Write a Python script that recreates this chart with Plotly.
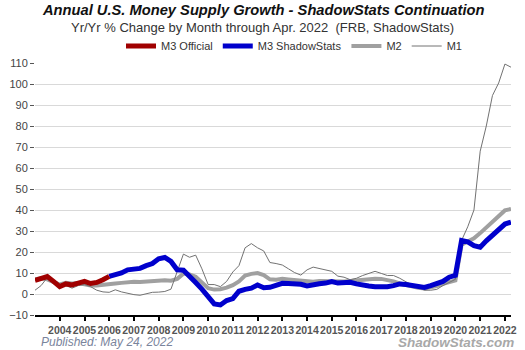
import plotly.graph_objects as go
import pandas as pd

# Quarterly observation dates (Jan 2003 .. Apr 2022)
dates = pd.date_range("2003-01-01", "2022-04-01", freq="QS").strftime("%Y-%m-%d").tolist()

# M3 Official (discontinued early 2006)
m3_official = [6.5, 7.2, 8.3, 6.0, 3.5, 4.8, 4.3, 5.2, 6.0, 5.0,
               5.5, 6.8, 8.4] + [None] * 65

# M3 ShadowStats continuation
m3_shadowstats = [None] * 12 + [
    8.4, 9.2, 10.0, 11.5, 12.0, 12.2, 13.5, 14.5, 16.8, 17.4,
    15.5, 11.5, 11.3, 8.0, 5.5, 2.3, -1.5, -4.7, -5.2, -3.1,
    -2.2, 1.3, 2.2, 2.8, 4.3, 3.0, 3.2, 4.2, 5.1, 5.0,
    5.0, 4.6, 3.8, 4.5, 4.9, 5.2, 5.9, 5.2, 5.2, 5.6,
    4.8, 4.0, 3.8, 3.5, 3.3, 3.5, 4.0, 4.8, 4.5, 3.9,
    3.4, 3.1, 4.0, 5.1, 6.0, 8.0, 8.9, 25.5, 24.8, 23.0,
    22.3, 25.3, 27.8, 30.3, 33.3, 34.2]

m2 = [7.0, 7.5, 7.0, 5.5, 4.5, 5.3, 5.0, 5.2, 4.5, 4.0,
      4.0, 4.2, 4.5, 5.0, 5.3, 5.6, 5.8, 5.7, 6.0, 6.3,
      6.6, 6.6, 6.3, 7.2, 9.7, 9.3, 8.2, 5.5, 2.8, 2.1,
      2.3, 3.0, 4.2, 6.0, 8.8, 9.6, 10.0, 9.0, 7.0, 6.8,
      7.2, 6.9, 6.6, 6.4, 6.0, 5.8, 6.2, 6.1, 5.9, 5.7,
      5.9, 6.2, 6.5, 6.6, 7.2, 7.3, 7.2, 6.8, 6.0, 5.0,
      4.2, 3.6, 3.0, 2.6, 3.0, 3.8, 4.8, 5.8, 6.5, 23.5,
      25.0, 26.5, 29.0, 31.7, 34.2, 36.7, 39.8, 40.5]

m1 = [1.8, 4.0, 7.8, 6.5, 4.5, 4.0, 2.8, 4.0, 4.5, 3.5,
      1.8, 1.0, 0.8, 2.0, 1.0, 0.2, -0.3, -0.6, 0.0, 0.8,
      0.9, 1.2, 2.3, 10.5, 19.0, 17.5, 18.5, 12.0, 4.5, 4.5,
      3.5, 6.0, 10.5, 13.5, 22.0, 24.0, 22.0, 20.5, 15.0, 14.5,
      13.8, 12.0, 10.2, 9.0, 11.5, 12.8, 12.2, 11.5, 10.8, 8.5,
      8.0, 6.8, 7.5, 8.8, 9.8, 10.8, 9.8, 8.8, 8.8, 7.5,
      5.8, 4.5, 3.3, 1.8, 1.8, 2.2, 4.0, 5.6, 7.0, 25.5,
      32.0, 40.0, 68.0, 80.0, 94.5, 100.5, 109.5, 108.0]

year_ticks = list(range(2004, 2023))
tick_dates = [f"{y}-01-01" for y in year_ticks]
tick_text = [str(y) for y in year_ticks]
y_ticks = list(range(-10, 111, 10))

FONT = "Liberation Sans, Arial, sans-serif"

fig = go.Figure()
fig.add_trace(go.Scatter(x=dates, y=m2, mode="lines", name="M2", legendrank=3,
                         line=dict(color="#a0a0a0", width=4)))
fig.add_trace(go.Scatter(x=dates, y=m1, mode="lines", name="M1", legendrank=4,
                         line=dict(color="#727272", width=1)))
fig.add_trace(go.Scatter(x=dates, y=m3_shadowstats, mode="lines", name="M3 ShadowStats",
                         legendrank=2, line=dict(color="#0000cc", width=5)))
fig.add_trace(go.Scatter(x=dates, y=m3_official, mode="lines", name="M3 Official",
                         legendrank=1, line=dict(color="#a00000", width=5)))

fig.update_layout(
    width=525, height=350,
    margin=dict(l=35, r=14, t=63, b=35, autoexpand=False),
    paper_bgcolor="white", plot_bgcolor="white",
    font=dict(family=FONT, color="#333"),
    showlegend=True,
    legend=dict(orientation="h", x=0.56, xanchor="center", xref="container",
                y=1 - 46 / 350, yanchor="middle", yref="container",
                font=dict(size=11, color="#333"), bgcolor="rgba(0,0,0,0)",
                itemwidth=30, tracegroupgap=0),
    xaxis=dict(type="date", range=["2003-01-01", "2022-04-01"],
               tickmode="array", tickvals=tick_dates, ticktext=tick_text,
               tickangle=0, showgrid=False, zeroline=False,
               showline=True, linecolor="black", linewidth=2,
               ticks="outside", ticklen=4, tickcolor="black", tickwidth=1.5,
               tickfont=dict(size=10.5, color="#555", family=FONT, weight="bold")),
    yaxis=dict(range=[-10, 110], tickmode="array", tickvals=y_ticks,
               showgrid=True, gridcolor="#d9d9d9", gridwidth=1, zeroline=False,
               showline=False, ticks="outside", ticklen=4, tickcolor="#555",
               tickfont=dict(size=11, color="#444", family=FONT)),
    annotations=[
        dict(text="<b><i>Annual U.S. Money Supply Growth - ShadowStats Continuation</i></b>",
             xref="paper", yref="paper", x=0.478, y=(315 - 10) / 252,
             xanchor="center", yanchor="middle", showarrow=False,
             font=dict(size=14.7, color="#111", family=FONT)),
        dict(text="Yr/Yr % Change by Month through Apr. 2022  (FRB, ShadowStats)",
             xref="paper", yref="paper", x=0.478, y=(315 - 27) / 252,
             xanchor="center", yanchor="middle", showarrow=False,
             font=dict(size=13, color="#333", family=FONT)),
        dict(text="<i>Published: May 24, 2022</i>",
             xref="paper", yref="paper", x=(39 - 35) / 476, y=(315 - 342) / 252,
             xanchor="left", yanchor="middle", showarrow=False,
             font=dict(size=12, color="#7a849c", family=FONT)),
        dict(text="<b><i>ShadowStats.com</i></b>",
             xref="paper", yref="paper", x=(516 - 35) / 476, y=(315 - 342.5) / 252,
             xanchor="right", yanchor="middle", showarrow=False,
             font=dict(size=13.5, color="#a8a8a8", family=FONT)),
    ],
)

fig.write_html("out.html")
